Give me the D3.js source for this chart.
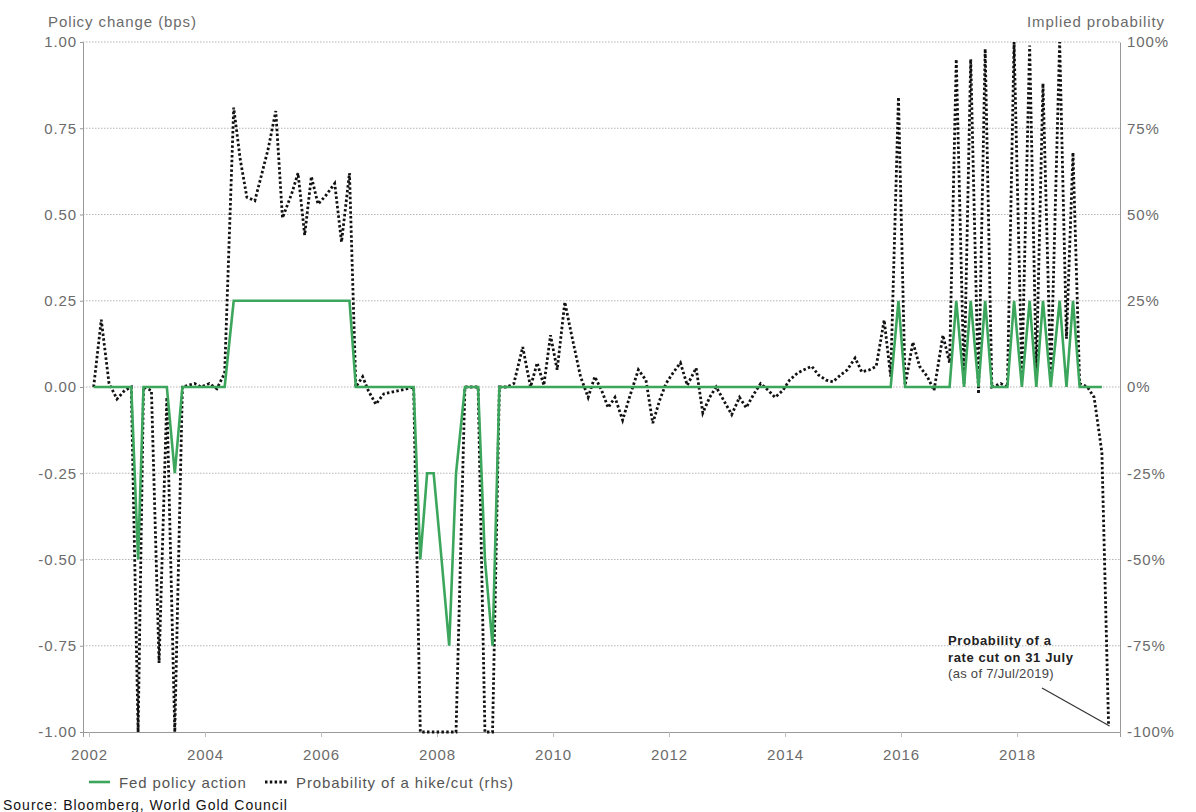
<!DOCTYPE html>
<html>
<head>
<meta charset="utf-8">
<script src="https://cdn.jsdelivr.net/npm/d3@7"></script>
<style>
  body { margin: 0; background: #fff; }
  svg text { font-family: "Liberation Sans", Arial, sans-serif; }
</style>
</head>
<body>
<div id="chart"></div>
<script>
// FOMC meeting dates (x positions of both series)
const meetingDates = [
  "2002-01-30","2002-03-19","2002-05-07","2002-06-26","2002-08-13","2002-09-24","2002-11-06","2002-12-10",
  "2003-01-29","2003-03-18","2003-05-06","2003-06-25","2003-08-12","2003-09-16","2003-10-28","2003-12-09",
  "2004-01-28","2004-03-16","2004-05-04","2004-06-30","2004-08-10","2004-09-21","2004-11-10","2004-12-14",
  "2005-02-02","2005-03-22","2005-05-03","2005-06-30","2005-08-09","2005-09-20","2005-11-01","2005-12-13",
  "2006-01-31","2006-03-28","2006-05-10","2006-06-29","2006-08-08","2006-09-20","2006-10-25","2006-12-12",
  "2007-01-31","2007-03-21","2007-05-09","2007-06-28","2007-08-07","2007-09-18","2007-10-31","2007-12-11",
  "2008-01-30","2008-03-18","2008-04-30","2008-06-25","2008-08-05","2008-09-16","2008-10-29","2008-12-16",
  "2009-01-28","2009-03-18","2009-04-29","2009-06-24","2009-08-12","2009-09-23","2009-11-04","2009-12-16",
  "2010-01-27","2010-03-16","2010-04-28","2010-06-23","2010-08-10","2010-09-21","2010-11-03","2010-12-14",
  "2011-01-26","2011-03-15","2011-04-27","2011-06-22","2011-08-09","2011-09-21","2011-11-02","2011-12-13",
  "2012-01-25","2012-03-13","2012-04-25","2012-06-20","2012-08-01","2012-09-13","2012-10-24","2012-12-12",
  "2013-01-30","2013-03-20","2013-05-01","2013-06-19","2013-07-31","2013-09-18","2013-10-30","2013-12-18",
  "2014-01-29","2014-03-19","2014-04-30","2014-06-18","2014-07-30","2014-09-17","2014-10-29","2014-12-17",
  "2015-01-28","2015-03-18","2015-04-29","2015-06-17","2015-07-29","2015-09-17","2015-10-28","2015-12-16",
  "2016-01-27","2016-03-16","2016-04-27","2016-06-15","2016-07-27","2016-09-21","2016-11-02","2016-12-14",
  "2017-02-01","2017-03-15","2017-05-03","2017-06-14","2017-07-26","2017-09-20","2017-11-01","2017-12-13",
  "2018-01-31","2018-03-21","2018-05-02","2018-06-13","2018-08-01","2018-09-26","2018-11-08","2018-12-19",
  "2019-01-30","2019-03-20","2019-05-01","2019-06-19","2019-07-31"
];

// Fed policy action (lhs)
const fedAction = [
  0,0,0,0,0,0,-0.5,0,
  0,0,0,-0.25,0,0,0,0,
  0,0,0,0.25,0.25,0.25,0.25,0.25,
  0.25,0.25,0.25,0.25,0.25,0.25,0.25,0.25,
  0.25,0.25,0.25,0.25,0,0,0,0,
  0,0,0,0,0,-0.5,-0.25,-0.25,
  -0.5,-0.75,-0.25,0,0,0,-0.5,-0.75,
  0,0,0,0,0,0,0,0,
  0,0,0,0,0,0,0,0,
  0,0,0,0,0,0,0,0,
  0,0,0,0,0,0,0,0,
  0,0,0,0,0,0,0,0,
  0,0,0,0,0,0,0,0,
  0,0,0,0,0,0,0,0.25,
  0,0,0,0,0,0,0,0.25,
  0,0.25,0,0.25,0,0,0,0.25,
  0,0.25,0,0.25,0,0.25,0,0.25,
  0,0,0,0,null
];

// Probability of a hike/cut, % (rhs)
const hikeCutProb = [
  0,19.5,1,-3.5,-1,0,-100,0,
  -1,-80,-3,-100,0,0.5,1,0,
  1,-0.5,4,81,66,55,54,60,
  69,80,49,56,62,44,61,53,
  55.5,59,42,62,0,3,-1,-5,
  -2,-1.5,-1,-0.5,0,-100,-100,-100,
  -100,-100,-100,0,0,0,-100,-100,
  0,0,1,11.6,0,7,0.5,15,
  5,24.6,15,3,-3,3,-1,-6,
  -3,-9.6,-3,5,2,-10.5,-4,1,
  4,7,0.5,5.5,-7.5,-3,0,-4,
  -8,-3,-6,-2,1,-1,-3,-1,
  2,4,5,6,3.5,2,1.5,3.5,
  5,8.4,4.4,5,6,19.4,3,84,
  0.5,13,6,3,-1,15,7,95,
  1,95,-2,98,0,1,0,100,
  3,99,4,88,2,100,14,68,
  1,0,-3,-19,-98
];

const leftTicks = [1, 0.75, 0.5, 0.25, 0, -0.25, -0.5, -0.75, -1];
const rightTicks = [100, 75, 50, 25, 0, -25, -50, -75, -100];
const yearTicks = [2002, 2004, 2006, 2008, 2010, 2012, 2014, 2016, 2018];

const W = 1196, H = 812;
const plot = { left: 83, right: 1120, top: 42, bottom: 732 };
const parse = d3.timeParse("%Y-%m-%d");

const data = meetingDates.map((d, i) => ({
  date: parse(d), fed: fedAction[i], prob: hikeCutProb[i]
}));

const svg = d3.select("#chart").append("svg")
  .attr("width", W).attr("height", H);

const x = d3.scaleTime()
  .domain([new Date(2001, 10, 24), new Date(2019, 9, 11)])
  .range([plot.left, plot.right]);
const yL = d3.scaleLinear().domain([-1, 1]).range([plot.bottom, plot.top]);
const yR = d3.scaleLinear().domain([-100, 100]).range([plot.bottom, plot.top]);

const grey = "#6b6b6b";

// gridlines
svg.append("g").selectAll("line")
  .data(leftTicks.filter(t => t > -1))
  .join("line")
  .attr("x1", plot.left).attr("x2", plot.right)
  .attr("y1", d => yL(d)).attr("y2", d => yL(d))
  .attr("stroke", "#b5b5b5").attr("stroke-width", 1)
  .attr("stroke-dasharray", "1.5,1.5");

// left axis
const axL = svg.append("g")
  .attr("transform", `translate(${plot.left},0)`)
  .call(d3.axisLeft(yL).tickValues(leftTicks).tickSize(3).tickPadding(3)
    .tickFormat(d => d.toFixed(2)));
axL.select(".domain").attr("stroke", "#999");
axL.selectAll(".tick line").attr("stroke", "#999");
axL.selectAll("text").attr("fill", grey).style("font-size", "15px")
  .style("letter-spacing", "0.9px");

// right axis
const axR = svg.append("g")
  .attr("transform", `translate(${plot.right},0)`)
  .call(d3.axisRight(yR).tickValues(rightTicks).tickSize(0).tickPadding(7)
    .tickFormat(d => d + "%"));
axR.select(".domain").attr("stroke", "#999");
axR.selectAll("text").attr("fill", grey).style("font-size", "15px")
  .style("letter-spacing", "0.9px");

// bottom axis
const axB = svg.append("g")
  .attr("transform", `translate(0,${plot.bottom})`)
  .call(d3.axisBottom(x)
    .tickValues(yearTicks.map(yr => new Date(yr, 0, 1)))
    .tickSize(5).tickPadding(12)
    .tickFormat(d3.timeFormat("%Y")));
axB.select(".domain").attr("stroke", "#999");
axB.selectAll(".tick line").attr("stroke", "#bbb");
axB.selectAll("text").attr("fill", grey).style("font-size", "15px")
  .style("letter-spacing", "0.9px");

// axis titles
svg.append("text").attr("x", 48).attr("y", 27)
  .attr("fill", grey).style("font-size", "15px").style("letter-spacing", "0.9px")
  .text("Policy change (bps)");
svg.append("text").attr("x", 1165).attr("y", 27).attr("text-anchor", "end")
  .attr("fill", grey).style("font-size", "15px").style("letter-spacing", "0.9px")
  .text("Implied probability");

// probability line (dotted)
const probLine = d3.line().x(d => x(d.date)).y(d => yR(d.prob));
svg.append("path").datum(data)
  .attr("d", probLine)
  .attr("fill", "none").attr("stroke", "#111")
  .attr("stroke-width", 2.8).attr("stroke-dasharray", "2.5,2.3");

// fed action line
const fedLine = d3.line().defined(d => d.fed != null)
  .x(d => x(d.date)).y(d => yL(d.fed));
svg.append("path").datum(data)
  .attr("d", fedLine)
  .attr("fill", "none").attr("stroke", "#3ba65c")
  .attr("stroke-width", 2.6).attr("stroke-linejoin", "miter");

// annotation
const last = data[data.length - 1];
const ann = svg.append("g");
ann.append("text").attr("x", 948).attr("y", 645)
  .style("font-size", "13px").style("font-weight", "bold").style("letter-spacing", "0.6px")
  .attr("fill", "#222").text("Probability of a");
ann.append("text").attr("x", 948).attr("y", 662)
  .style("font-size", "13px").style("font-weight", "bold").style("letter-spacing", "0.6px")
  .attr("fill", "#222").text("rate cut on 31 July");
ann.append("text").attr("x", 948).attr("y", 678)
  .style("font-size", "13px").style("letter-spacing", "0.3px")
  .attr("fill", "#444").text("(as of 7/Jul/2019)");
ann.append("line")
  .attr("x1", 1042).attr("y1", 688)
  .attr("x2", x(last.date) + 1).attr("y2", yR(last.prob) + 1)
  .attr("stroke", "#333").attr("stroke-width", 1.2);

// legend
const lg = svg.append("g");
lg.append("line").attr("x1", 89).attr("x2", 110).attr("y1", 782).attr("y2", 782)
  .attr("stroke", "#3ba65c").attr("stroke-width", 2.6);
lg.append("text").attr("x", 119).attr("y", 788).attr("fill", "#555")
  .style("font-size", "15px").style("letter-spacing", "0.9px").text("Fed policy action");
lg.append("line").attr("x1", 265).attr("x2", 289).attr("y1", 782).attr("y2", 782)
  .attr("stroke", "#111").attr("stroke-width", 2.8).attr("stroke-dasharray", "2.5,2.3");
lg.append("text").attr("x", 296).attr("y", 788).attr("fill", "#555")
  .style("font-size", "15px").style("letter-spacing", "0.9px").text("Probability of a hike/cut (rhs)");

// source
svg.append("text").attr("x", 3).attr("y", 810).attr("fill", "#111")
  .style("font-size", "14px").style("letter-spacing", "1px")
  .text("Source: Bloomberg, World Gold Council");
</script>
</body>
</html>
